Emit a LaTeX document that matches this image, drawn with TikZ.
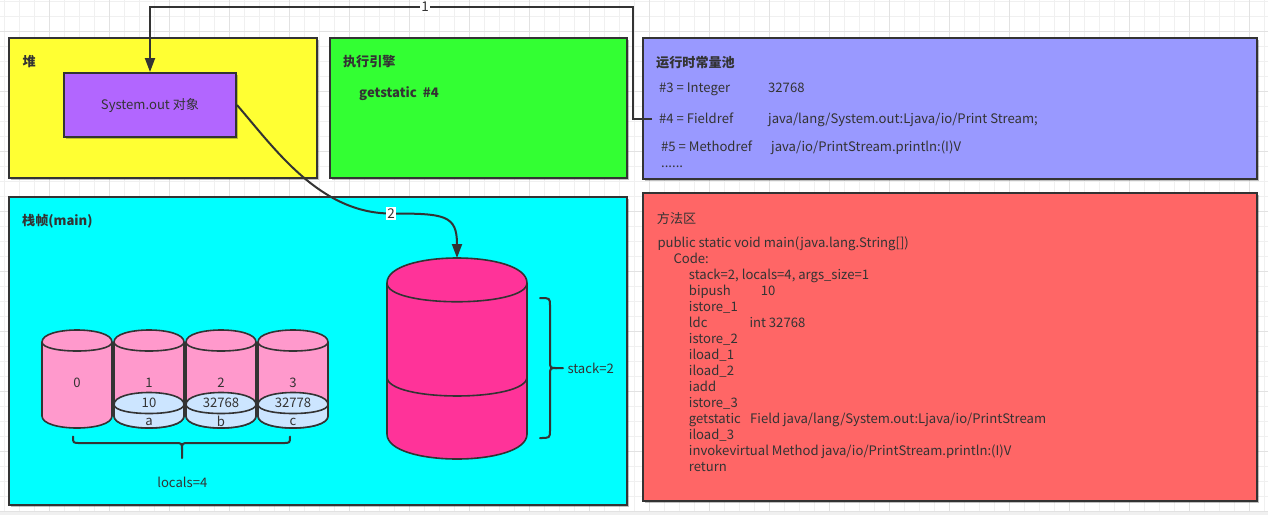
\documentclass[tikz,border=0pt]{standalone}
\usepackage{fontspec}
\setmainfont{Noto Sans CJK SC}
\usetikzlibrary{arrows.meta,shadows}

\definecolor{ink}{HTML}{333333}
\definecolor{gridminor}{HTML}{F0F0F0}
\definecolor{gridmajor}{HTML}{E2E2E2}
\definecolor{heapfill}{HTML}{FFFF33}
\definecolor{enginefill}{HTML}{33FF33}
\definecolor{objfill}{HTML}{B266FF}
\definecolor{poolfill}{HTML}{9999FF}
\definecolor{framefill}{HTML}{00FFFF}
\definecolor{methodfill}{HTML}{FF6666}
\definecolor{slotpink}{HTML}{FF99CC}
\definecolor{slotblue}{HTML}{CCE5FF}
\definecolor{stackpink}{HTML}{FF3399}

\begin{document}
\begin{tikzpicture}[x=1pt,y=-1pt,
  every node/.style={text=ink, inner sep=0pt, font=\fontsize{13.1pt}{15pt}\selectfont},
  panel/.style={draw=ink, line width=2pt, anchor=north west,
    drop shadow={shadow xshift=2pt, shadow yshift=-2pt, opacity=0.25, fill=black}},
  txt/.style={anchor=base west},
  bold/.style={font=\fontsize{13.1pt}{15pt}\selectfont\bfseries},
  conn/.style={draw=ink, line width=2pt, -{Triangle[length=14pt,width=10pt]}},
  tag/.style={fill=white, inner sep=1.5pt, font=\fontsize{13.5pt}{15pt}\selectfont},
  brace/.style={draw=ink, line width=2pt, line cap=round, line join=round},
  pics/drum/.style n args={4}{code={
    \filldraw[fill=#4, draw=ink, line width=1.6pt]
      (0,#3) .. controls (0,-#3/3) and (#1,-#3/3) .. (#1,#3)
      -- (#1,#2-#3) .. controls (#1,#2+#3/3) and (0,#2+#3/3) .. (0,#2-#3) -- cycle;
    \draw[ink, line width=1.6pt] (0,#3) .. controls (0,2*#3) and (#1,2*#3) .. (#1,#3);
  }}
]
\useasboundingbox (0,0) rectangle (1268,515);

% canvas grid
\foreach \gx in {4.3,19.3,...,1268} \draw[gridminor, line width=1pt] (\gx,0) -- (\gx,515);
\foreach \gy in {1.7,16.7,...,515} \draw[gridminor, line width=1pt] (0,\gy) -- (1268,\gy);
\foreach \gx in {49.3,109.3,...,1268} \draw[gridmajor, line width=1pt] (\gx,0) -- (\gx,515);
\foreach \gy in {31.7,91.7,...,515} \draw[gridmajor, line width=1pt] (0,\gy) -- (1268,\gy);
\fill[gridminor] (0,511.5) rectangle (1268,515);

% panels
\node[panel, fill=heapfill, minimum width=308pt, minimum height=140pt] (heap) at (8,37) {};
\node[panel, fill=enginefill, minimum width=297pt, minimum height=140pt] (engine) at (329,37) {};
\node[panel, fill=poolfill, minimum width=614pt, minimum height=141pt] (pool) at (642,37) {};
\node[panel, fill=framefill, minimum width=618pt, minimum height=308pt] (frame) at (8,196) {};
\node[panel, fill=methodfill, minimum width=614pt, minimum height=308pt] (method) at (642,192) {};

% heap
\node[txt, bold] (heaptitle) at (22.4,66.4) {堆};
\node[panel, fill=objfill, minimum width=172pt, minimum height=64pt] (obj) at (63,72) {};
\node (objtext) at (obj.center) {System.out 对象};

% execution engine
\node[txt, bold] (enginetitle) at (342.9,66.4) {执行引擎};
\node[txt, bold] (instr) at (359,97.8) {getstatic\ \ \#4};

% runtime constant pool
\node[txt, bold] (pooltitle) at (656,67) {运行时常量池};
\node[txt] (r3) at (659,92.8) {\makebox[109pt][l]{\#3 = Integer}32768};
\node[txt] (r4) at (659,123.8) {\makebox[109pt][l]{\#4 = Fieldref}java/lang/System.out:Ljava/io/Print Stream;};
\node[txt] (r5) at (661,151.8) {\makebox[110pt][l]{\#5 = Methodref}java/io/PrintStream.println:(I)V};
\node[txt] (rmore) at (661,167.5) {......};

% method area
\node[txt] (methodtitle) at (656.7,223) {方法区};
\node[txt] (m1)  at (657.3,247.2) {public static void main(java.lang.String[])};
\node[txt] (m2)  at (673.3,263.2) {Code:};
\node[txt] (m3)  at (688.7,279.2) {stack=2, locals=4, args\_size=1};
\node[txt] (m4)  at (688.7,295.2) {\makebox[72pt][l]{bipush}10};
\node[txt] (m5)  at (688.7,311.2) {istore\_1};
\node[txt] (m6)  at (688.7,327.2) {\makebox[60.6pt][l]{ldc}int 32768};
\node[txt] (m7)  at (688.7,343.2) {istore\_2};
\node[txt] (m8)  at (688.7,359.2) {iload\_1};
\node[txt] (m9)  at (688.7,375.2) {iload\_2};
\node[txt] (m10) at (688.7,391.2) {iadd};
\node[txt] (m11) at (688.7,407.2) {istore\_3};
\node[txt] (m12) at (688.7,423.2) {\makebox[61.3pt][l]{getstatic}Field java/lang/System.out:Ljava/io/PrintStream};
\node[txt] (m13) at (688.7,439.2) {iload\_3};
\node[txt] (m14) at (688.7,455.2) {invokevirtual Method java/io/PrintStream.println:(I)V};
\node[txt] (m15) at (688.7,471.2) {return};

% stack frame
\node[txt, bold] (frametitle) at (22,225.5) {栈帧(main)};

% local variable slots
\foreach \k in {0,1,2,3}
  \pic at ({42+72*\k},330) {drum={70}{98}{12}{slotpink}};
\foreach \k in {1,2,3}
  \pic at ({42+72*\k},392.5) {drum={70}{35.5}{12}{slotblue}};
\foreach \k in {0,1,2,3}
  \node (slot\k) at ({77+72*\k},383) {\k};
\node (v1) at (149,403) {10};
\node (v2) at (221,403) {32768};
\node (v3) at (293,403) {32778};
\node (n1) at (149,421.7) {a};
\node (n2) at (221,421.7) {b};
\node (n3) at (293,421.7) {c};

% operand stack
\pic at (387,258) {drum={140}{201}{25}{stackpink}};
\draw[ink, line width=1.6pt] (387,377) .. controls (387,402.3) and (527,402.3) .. (527,377);
\coordinate (stacktop) at (457,258);

% braces
\draw[brace] (73,436.5) .. controls (73,443) .. (80,443) -- (175,443)
  .. controls (182,443) .. (182,450) -- (182,458);
\draw[brace] (290,436.5) .. controls (290,443) .. (283,443) -- (189,443)
  .. controls (182,443) .. (182,450);
\node (localslabel) at (182.3,482.7) {locals=4};

\draw[brace] (540,298) .. controls (550,298) .. (550,306) -- (550,361)
  .. controls (550,368) .. (557,368) -- (563,368);
\draw[brace] (540,438) .. controls (550,438) .. (550,430) -- (550,375)
  .. controls (550,368) .. (557,368);
\node[anchor=west] (stacklabel) at (567.3,368.3) {stack=2};

% connector 1: constant pool entry to the heap object
\coordinate (f4) at (652,118.5);
\coordinate (k1) at (633,7);
\draw[conn] (f4) -| (k1) -| (obj.north);
\node[tag] (tag1) at (425,7) {1};

% connector 2: heap object to the operand stack
\coordinate (bend2) at (391,213.5);
\draw[conn] (obj.east) .. controls (275,149) and (320,213.5) .. (bend2)
  .. controls (445,213.5) and (457,215) .. (stacktop);
\node[tag] (tag2) at (bend2) {2};
\end{tikzpicture}
\end{document}
